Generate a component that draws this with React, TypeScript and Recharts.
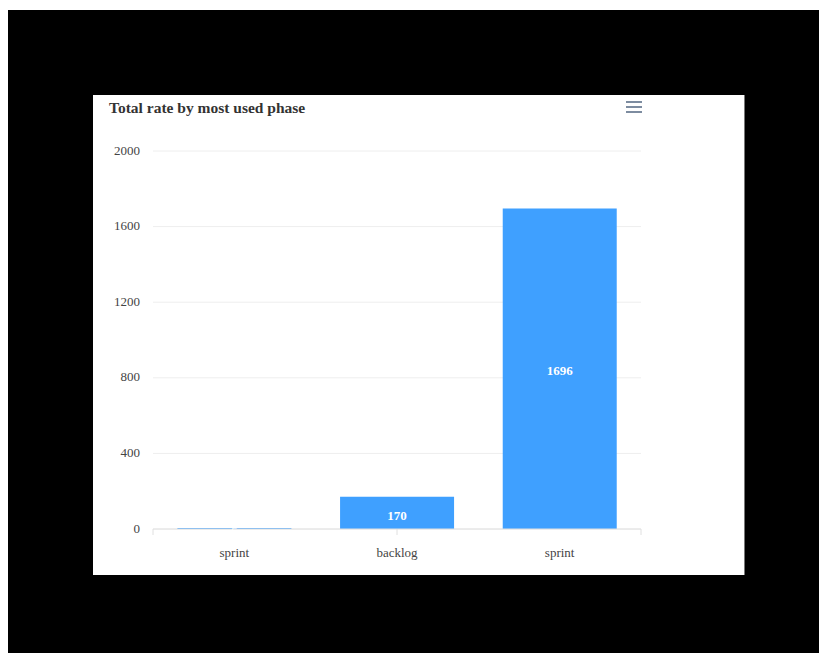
import React from 'react';
import { BarChart, Bar, XAxis, YAxis, CartesianGrid, LabelList } from 'recharts';

const categories = ['sprint', 'backlog', 'sprint'];
const totals = [5, 170, 1696];
const yTicks = [0, 400, 800, 1200, 1600, 2000];
const title = 'Total rate by most used phase';

const data = categories.map((name, i) => ({ name, total: totals[i] }));

const FONT = '"Liberation Serif", "Times New Roman", serif';

export default function App() {
  return (
    <div style={{ position: 'absolute', left: 8, top: 10, width: 811, height: 643, background: '#000' }}>
      <div style={{ position: 'absolute', left: 85, top: 85, width: 652, height: 480, background: '#fff', borderRight: '1px solid #777', boxSizing: 'border-box' }}>
        <div style={{ position: 'absolute', left: 16, top: 4, fontFamily: FONT, fontWeight: 'bold', fontSize: 15.5, color: '#333', lineHeight: '18px' }}>{title}</div>
        <svg style={{ position: 'absolute', left: 532, top: 5 }} width={18} height={14}>
          <line x1={1} y1={2} x2={17} y2={2} stroke="#7d8ca0" strokeWidth={2} />
          <line x1={1} y1={7} x2={17} y2={7} stroke="#7d8ca0" strokeWidth={2} />
          <line x1={1} y1={12} x2={17} y2={12} stroke="#7d8ca0" strokeWidth={2} />
        </svg>
        <BarChart
          width={652}
          height={480}
          data={data}
          margin={{ top: 56, right: 104, bottom: 8, left: 0 }}
          barCategoryGap="15%"
        >
          <CartesianGrid vertical={false} stroke="#eeeeee" xAxisId="cat" />
          <XAxis
            xAxisId="band"
            type="number"
            domain={[0, 3]}
            ticks={[0, 1, 2, 3]}
            height={8}
            stroke="#e0e0e0"
            tickLine={{ stroke: '#e0e0e0' }}
            tickSize={6}
            tickFormatter={() => ''}
            allowDataOverflow
          />
          <XAxis
            xAxisId="cat"
            dataKey="name"
            height={30}
            axisLine={false}
            tickLine={false}
            tickMargin={5}
            tick={{ fill: '#444', fontSize: 13, fontFamily: FONT }}
          />
          <YAxis
            domain={[0, 2000]}
            ticks={yTicks}
            width={60}
            axisLine={false}
            tickLine={false}
            tickMargin={7}
            tick={{ fill: '#444', fontSize: 13, fontFamily: FONT, dy: -1 }}
          />
          <Bar dataKey="total" xAxisId="cat" fill="#3fa0ff" isAnimationActive={false}>
            <LabelList dataKey="total" position="center" fill="#fff" fontWeight="bold" fontSize={13} fontFamily={FONT} dy={2} />
          </Bar>
        </BarChart>
      </div>
    </div>
  );
}
